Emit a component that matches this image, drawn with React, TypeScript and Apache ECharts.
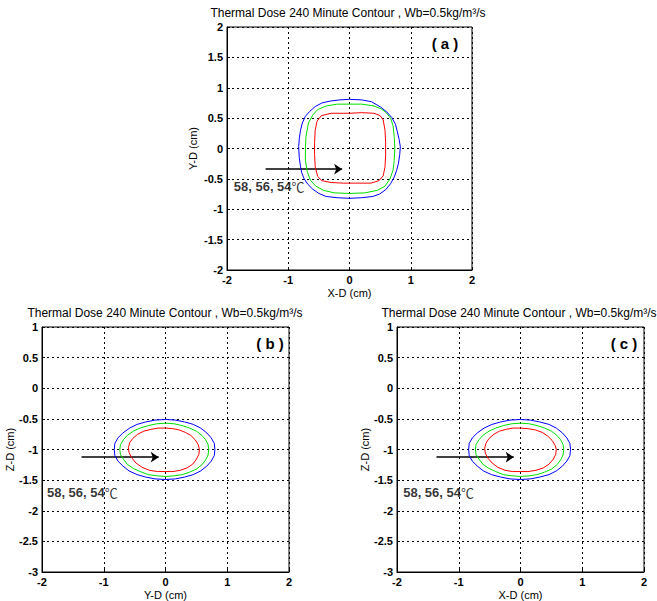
import React, { useEffect, useRef } from "react";
import * as echarts from "echarts";

const TITLE = "Thermal Dose 240 Minute Contour , Wb=0.5kg/m³/s";
const TEMP_NUMS = "58, 56, 54";
const TEMP_UNIT = "℃";
const XY_RANGE = [-2, 2];
const Z_RANGE = [-3, 1];

// Panel (a): X-D vs Y-D
const aRed: number[][] = [
  [0, 0.58], [0.2, 0.59], [0.4, 0.58], [0.5, 0.54], [0.55, 0.47], [0.58, 0.3], [0.59, 0.1], [0.59, -0.1],
  [0.58, -0.3], [0.55, -0.45], [0.48, -0.53], [0.35, -0.57], [0.1, -0.57], [-0.1, -0.57], [-0.3, -0.56],
  [-0.45, -0.53], [-0.52, -0.46], [-0.56, -0.3], [-0.57, -0.1], [-0.57, 0.1], [-0.56, 0.3], [-0.53, 0.45],
  [-0.46, 0.54], [-0.3, 0.58], [-0.1, 0.58], [0, 0.58],
];
const aGreen: number[][] = [
  [0, 0.73], [0.2, 0.73], [0.4, 0.7], [0.52, 0.65], [0.6, 0.59], [0.67, 0.5], [0.71, 0.38], [0.73, 0.2],
  [0.74, 0], [0.73, -0.2], [0.71, -0.36], [0.66, -0.5], [0.58, -0.62], [0.45, -0.69], [0.25, -0.73],
  [0, -0.74], [-0.25, -0.73], [-0.42, -0.69], [-0.55, -0.62], [-0.64, -0.52], [-0.69, -0.38], [-0.72, -0.2],
  [-0.72, 0], [-0.71, 0.2], [-0.67, 0.42], [-0.6, 0.55], [-0.52, 0.64], [-0.38, 0.7], [-0.2, 0.73], [0, 0.73],
];
const aBlue: number[][] = [
  [0, 0.81], [0.2, 0.8], [0.36, 0.77], [0.51, 0.68], [0.61, 0.6], [0.69, 0.51], [0.75, 0.4], [0.78, 0.28],
  [0.81, 0.15], [0.83, 0.03], [0.82, -0.1], [0.8, -0.24], [0.77, -0.36], [0.73, -0.47], [0.67, -0.58],
  [0.59, -0.68], [0.49, -0.75], [0.38, -0.79], [0.2, -0.81], [0, -0.82], [-0.2, -0.81], [-0.38, -0.79],
  [-0.5, -0.74], [-0.6, -0.67], [-0.68, -0.59], [-0.74, -0.5], [-0.78, -0.4], [-0.8, -0.3], [-0.82, -0.15],
  [-0.83, 0.03], [-0.82, 0.16], [-0.8, 0.3], [-0.77, 0.42], [-0.72, 0.53], [-0.65, 0.61], [-0.56, 0.69],
  [-0.45, 0.75], [-0.32, 0.78], [-0.16, 0.8], [0, 0.81],
];

// Panel (b): Y-D vs Z-D
const bRed: number[][] = [
  [0, -0.65], [0.12, -0.66], [0.22, -0.68], [0.32, -0.72], [0.41, -0.77], [0.48, -0.84], [0.53, -0.92],
  [0.55, -1.0], [0.54, -1.08], [0.5, -1.16], [0.44, -1.24], [0.35, -1.3], [0.24, -1.34], [0.12, -1.36],
  [0, -1.36], [-0.13, -1.36], [-0.26, -1.34], [-0.38, -1.29], [-0.48, -1.22], [-0.55, -1.13], [-0.59, -1.05],
  [-0.6, -0.97], [-0.58, -0.89], [-0.53, -0.82], [-0.45, -0.75], [-0.35, -0.7], [-0.23, -0.67], [-0.12, -0.65],
  [0, -0.65],
];
const bGreen: number[][] = [
  [0, -0.57], [0.14, -0.58], [0.27, -0.61], [0.39, -0.65], [0.5, -0.7], [0.59, -0.77], [0.65, -0.84],
  [0.69, -0.92], [0.7, -1.0], [0.69, -1.09], [0.65, -1.17], [0.59, -1.25], [0.5, -1.32], [0.39, -1.37],
  [0.27, -1.41], [0.14, -1.43], [0, -1.44], [-0.14, -1.43], [-0.28, -1.41], [-0.41, -1.36], [-0.52, -1.31],
  [-0.62, -1.24], [-0.68, -1.16], [-0.73, -1.08], [-0.74, -1.0], [-0.73, -0.92], [-0.68, -0.84], [-0.62, -0.77],
  [-0.52, -0.7], [-0.41, -0.65], [-0.28, -0.61], [-0.14, -0.58], [0, -0.57],
];
const bBlue: number[][] = [
  [0, -0.51], [0.16, -0.52], [0.31, -0.55], [0.45, -0.59], [0.57, -0.65], [0.67, -0.73], [0.74, -0.81],
  [0.79, -0.9], [0.8, -1.0], [0.79, -1.1], [0.74, -1.19], [0.67, -1.27], [0.57, -1.35], [0.45, -1.41],
  [0.31, -1.45], [0.16, -1.48], [0, -1.49], [-0.17, -1.48], [-0.32, -1.45], [-0.46, -1.41], [-0.59, -1.35],
  [-0.69, -1.27], [-0.77, -1.19], [-0.82, -1.1], [-0.83, -1.0], [-0.82, -0.9], [-0.77, -0.81], [-0.69, -0.73],
  [-0.58, -0.65], [-0.46, -0.59], [-0.32, -0.55], [-0.17, -0.52], [0, -0.51],
];

// Panel (c): X-D vs Z-D
const cRed: number[][] = [
  [0, -0.65], [0.12, -0.66], [0.24, -0.68], [0.35, -0.72], [0.44, -0.78], [0.51, -0.85], [0.56, -0.93],
  [0.58, -1.0], [0.57, -1.08], [0.53, -1.16], [0.46, -1.24], [0.37, -1.3], [0.25, -1.34], [0.12, -1.36],
  [0, -1.36], [-0.13, -1.36], [-0.25, -1.34], [-0.37, -1.29], [-0.46, -1.22], [-0.53, -1.14], [-0.57, -1.06],
  [-0.58, -0.98], [-0.56, -0.9], [-0.51, -0.82], [-0.43, -0.75], [-0.34, -0.7], [-0.23, -0.67], [-0.12, -0.65],
  [0, -0.65],
];
const cGreen: number[][] = [
  [0, -0.57], [0.14, -0.58], [0.27, -0.61], [0.39, -0.65], [0.5, -0.7], [0.59, -0.77], [0.65, -0.84],
  [0.69, -0.92], [0.7, -1.0], [0.69, -1.09], [0.65, -1.17], [0.59, -1.25], [0.5, -1.32], [0.39, -1.37],
  [0.27, -1.41], [0.14, -1.43], [0, -1.44], [-0.14, -1.43], [-0.28, -1.41], [-0.4, -1.36], [-0.51, -1.31],
  [-0.61, -1.24], [-0.67, -1.16], [-0.72, -1.08], [-0.73, -1.0], [-0.72, -0.92], [-0.67, -0.84], [-0.61, -0.77],
  [-0.51, -0.7], [-0.4, -0.65], [-0.28, -0.61], [-0.14, -0.58], [0, -0.57],
];
const cBlue: number[][] = [
  [0, -0.51], [0.16, -0.52], [0.31, -0.55], [0.46, -0.59], [0.58, -0.65], [0.68, -0.73], [0.75, -0.81],
  [0.8, -0.9], [0.81, -1.0], [0.8, -1.1], [0.75, -1.19], [0.68, -1.27], [0.58, -1.35], [0.46, -1.41],
  [0.31, -1.45], [0.16, -1.48], [0, -1.49], [-0.17, -1.48], [-0.32, -1.45], [-0.47, -1.41], [-0.6, -1.35],
  [-0.7, -1.27], [-0.78, -1.19], [-0.83, -1.1], [-0.84, -1.0], [-0.83, -0.9], [-0.78, -0.81], [-0.7, -0.73],
  [-0.59, -0.65], [-0.46, -0.59], [-0.32, -0.55], [-0.17, -0.52], [0, -0.51],
];

// arrows [start, end] and label anchors
const arrowA = [[-1.37, -0.34], [-0.12, -0.34]];
const arrowB = [[-1.36, -1.125], [-0.11, -1.125]];
const arrowC = [[-1.36, -1.125], [-0.11, -1.125]];
const labelA = [-1.89, -0.63];
const labelB = [-1.92, -1.7];
const labelC = [-1.9, -1.7];

const FONT = "'Liberation Sans', Arial, sans-serif";

export default function App() {
  const ref = useRef<HTMLDivElement>(null);
  useEffect(() => {
    if (!ref.current) return;
    const chart = echarts.init(ref.current, undefined, { renderer: "svg" });

    const grids = [
      { left: 227, top: 27, width: 245, height: 243 },
      { left: 42, top: 327, width: 247, height: 245 },
      { left: 397, top: 327, width: 247, height: 245 },
    ];
    const xNames = ["X-D (cm)", "Y-D (cm)", "X-D (cm)"];
    const yNames = ["Y-D (cm)", "Z-D (cm)", "Z-D (cm)"];
    const yMins = [XY_RANGE[0], Z_RANGE[0], Z_RANGE[0]];
    const yMaxs = [XY_RANGE[1], Z_RANGE[1], Z_RANGE[1]];

    const axisCommon = {
      axisLine: { show: true, onZero: false, lineStyle: { color: "#000", width: 1 } },
      axisTick: { show: true, inside: true, length: 3, lineStyle: { color: "#000" } },
      splitLine: { show: true, lineStyle: { color: "#000", type: [2, 3], width: 1 } },
      nameTextStyle: { color: "#000", fontSize: 11, fontFamily: FONT },
    };

    const xAxis = grids.map((_, i) => ({
      ...axisCommon,
      type: "value",
      gridIndex: i,
      min: XY_RANGE[0],
      max: XY_RANGE[1],
      interval: 1,
      name: xNames[i],
      nameLocation: "middle",
      nameGap: 17,
      axisLabel: { color: "#000", fontSize: 11, fontWeight: "bold", fontFamily: FONT, margin: 4 },
    }));
    const yAxis = grids.map((_, i) => ({
      ...axisCommon,
      type: "value",
      gridIndex: i,
      min: yMins[i],
      max: yMaxs[i],
      interval: 0.5,
      name: yNames[i],
      nameLocation: "middle",
      nameGap: i === 0 ? 29 : 27,
      axisLabel: { color: "#000", fontSize: 11, fontWeight: "bold", fontFamily: FONT, margin: 4 },
    }));

    const contourSets = [
      [aRed, aGreen, aBlue],
      [bRed, bGreen, bBlue],
      [cRed, cGreen, cBlue],
    ];
    const colors = ["#ff0000", "#00e000", "#0000ff"];
    const series: any[] = [];
    contourSets.forEach((set, gi) => {
      set.forEach((d, ci) => {
        series.push({
          type: "line",
          xAxisIndex: gi,
          yAxisIndex: gi,
          data: d,
          showSymbol: false,
          symbol: "none",
          lineStyle: { color: colors[ci], width: 1 },
          silent: true,
        });
      });
    });
    const arrows = [arrowA, arrowB, arrowC];
    arrows.forEach((a, gi) => {
      series.push({
        type: "lines",
        coordinateSystem: "cartesian2d",
        xAxisIndex: gi,
        yAxisIndex: gi,
        symbol: ["none", "arrow"],
        symbolSize: 8,
        lineStyle: { color: "#000", width: 1.5, opacity: 1 },
        data: [{ coords: a }],
        silent: true,
      });
    });
    const labels = [labelA, labelB, labelC];
    labels.forEach((p, gi) => {
      series.push({
        type: "scatter",
        xAxisIndex: gi,
        yAxisIndex: gi,
        symbolSize: 0,
        data: [p],
        silent: true,
        label: {
          show: true,
          position: "right",
          distance: 0,
          formatter: `{n|${TEMP_NUMS}}{u|${TEMP_UNIT}}`,
          rich: {
            n: { color: "#000", fontSize: 13, fontWeight: "bold", fontFamily: FONT },
            u: { color: "#000", fontSize: 13, fontFamily: "'Noto Sans CJK SC', sans-serif" },
          },
        },
      });
    });

    const titlePos = [
      [348, 13],
      [165, 313],
      [519, 313],
    ];
    const letterPos = [
      [445, 43, "a"],
      [270, 343, "b"],
      [624, 343, "c"],
    ];

    const graphic: any[] = [];
    titlePos.forEach(([x, y]) => {
      graphic.push({
        type: "text",
        x,
        y,
        style: {
          text: TITLE,
          fill: "#000",
          font: `12px ${FONT}`,
          textAlign: "center",
          textVerticalAlign: "middle",
        },
      });
    });
    letterPos.forEach(([x, y, l]) => {
      graphic.push({
        type: "text",
        x,
        y,
        style: {
          text: `( ${l} )`,
          fill: "#000",
          font: `bold 15px ${FONT}`,
          textAlign: "center",
          textVerticalAlign: "middle",
        },
      });
    });

    chart.setOption({
      animation: false,
      backgroundColor: "#fff",
      grid: grids.map((g) => ({ ...g, show: true, borderColor: "#000", borderWidth: 1, backgroundColor: "transparent" })),
      xAxis,
      yAxis,
      series,
      graphic,
    });
    return () => chart.dispose();
  }, []);
  return (
    <div
      ref={ref}
      style={{ position: "fixed", left: 0, top: 0, width: 657, height: 601, background: "#fff" }}
    />
  );
}
